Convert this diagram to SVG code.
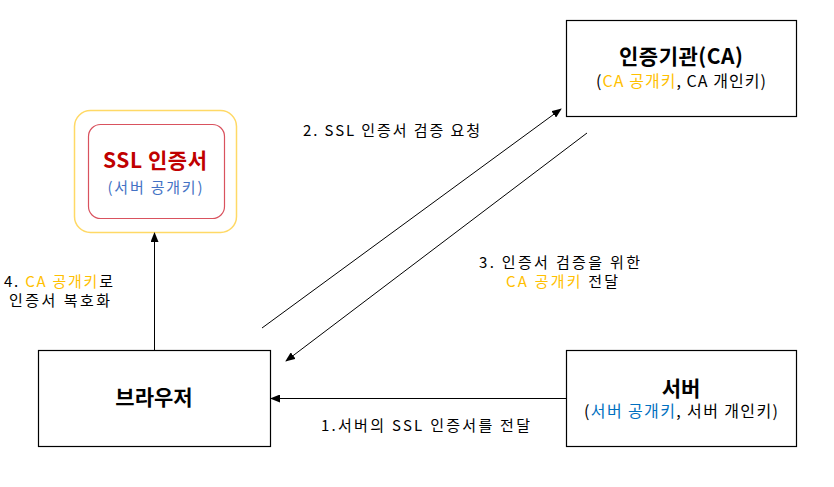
<svg xmlns="http://www.w3.org/2000/svg" width="834" height="487" viewBox="0 0 834 487">
<defs>
<marker id="ah" markerWidth="10" markerHeight="8" refX="9" refY="4" orient="auto" markerUnits="userSpaceOnUse">
<path d="M0,0 L10,4 L0,8 Z" fill="#000"/>
</marker>
<style>
text{font-family:"Noto Sans CJK KR","Noto Sans",sans-serif;fill:#000}
.box{fill:#fff;stroke:#000;stroke-width:1.2}
.title{font-size:21px;font-weight:bold}
.sub{font-size:16px}
.lbl{font-size:15px}
.y{fill:#FFC000}
.conn line{stroke:#000;stroke-width:1}
</style>
</defs>
<rect width="834" height="487" fill="#fff"/>
<g id="ca">
<rect class="box" x="566.5" y="20.5" width="230" height="96"/>
<text class="title" x="681" y="64" text-anchor="middle" textLength="124" lengthAdjust="spacing">인증기관(CA)</text>
<text class="sub" x="681" y="87" text-anchor="middle" textLength="170" lengthAdjust="spacing">(<tspan class="y">CA 공개키</tspan>, CA 개인키)</text>
</g>
<g id="server">
<rect class="box" x="566.5" y="350.5" width="230" height="96"/>
<text class="title" x="681" y="396" text-anchor="middle">서버</text>
<text class="sub" x="681" y="417" text-anchor="middle" textLength="194" lengthAdjust="spacing">(<tspan fill="#0070C0">서버 공개키</tspan>, 서버 개인키)</text>
</g>
<g id="browser">
<rect class="box" x="38.5" y="350.5" width="232" height="96"/>
<text class="title" x="154" y="405" text-anchor="middle">브라우저</text>
</g>
<g id="ssl">
<rect x="74.5" y="110.5" width="162" height="122" rx="16" fill="#fff" stroke="#FFD966" stroke-width="1.5"/>
<rect x="88.5" y="124.5" width="136" height="94" rx="12" fill="#fff" stroke="#D9525E" stroke-width="1.2"/>
<text class="title" x="155" y="168" text-anchor="middle" textLength="104" lengthAdjust="spacing" style="fill:#C00000">SSL 인증서</text>
<text x="155" y="193" text-anchor="middle" textLength="95" lengthAdjust="spacing" style="fill:#4472C4;font-size:15px">(서버 공개키)</text>
</g>
<g class="conn" id="connectors">
<line x1="566" y1="398.5" x2="271" y2="398.5" marker-end="url(#ah)"/>
<line x1="262" y1="328" x2="561" y2="109" marker-end="url(#ah)"/>
<line x1="587" y1="133" x2="286" y2="361" marker-end="url(#ah)"/>
<line x1="154.5" y1="350" x2="154.5" y2="233" marker-end="url(#ah)"/>
</g>
<g id="labels">
<text class="lbl" x="303" y="136" textLength="177" lengthAdjust="spacing">2. SSL 인증서 검증 요청</text>
<text class="lbl" x="479" y="268" textLength="161" lengthAdjust="spacing">3. 인증서 검증을 위한</text>
<text class="lbl" x="506" y="287" textLength="112" lengthAdjust="spacing"><tspan class="y">CA 공개키</tspan> 전달</text>
<text class="lbl" x="4" y="287" textLength="109" lengthAdjust="spacing">4. <tspan class="y">CA 공개키</tspan>로</text>
<text class="lbl" x="9" y="306" textLength="101" lengthAdjust="spacing">인증서 복호화</text>
<text class="lbl" x="321" y="431" textLength="209" lengthAdjust="spacing">1.서버의 SSL 인증서를 전달</text>
</g>
</svg>
